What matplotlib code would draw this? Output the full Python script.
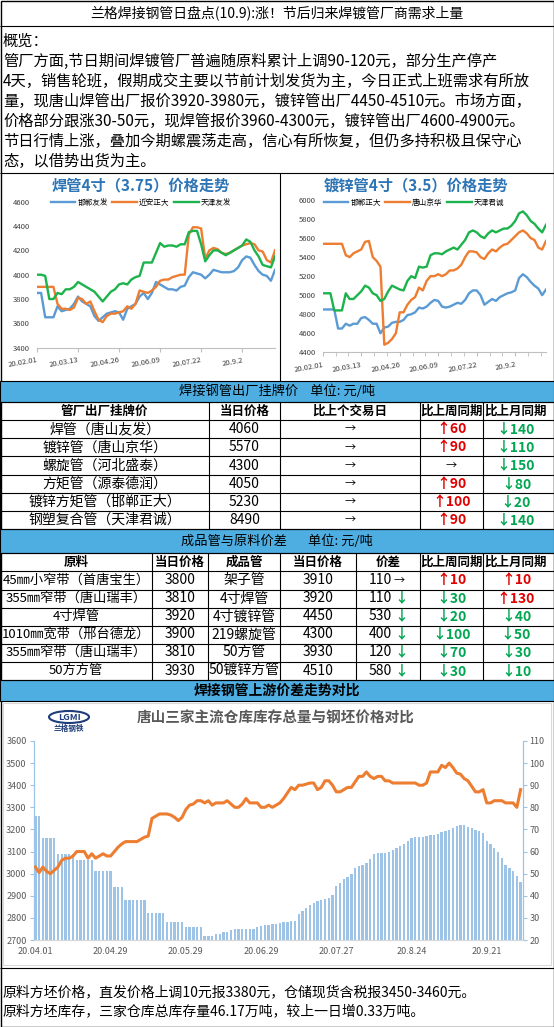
import numpy as np
import matplotlib
matplotlib.use('Agg')
import matplotlib.pyplot as plt
from matplotlib.patches import Rectangle, Ellipse
from matplotlib.ticker import MultipleLocator

plt.rcParams['font.family'] = ['Noto Sans CJK SC', 'DejaVu Sans']

# ---------------- data ----------------
title = '兰格焊接钢管日盘点(10.9):涨！节后归来焊镀管厂商需求上量'
overview = [
    '概览：',
    '管厂方面,节日期间焊镀管厂普遍随原料累计上调90-120元，部分生产停产',
    '4天，销售轮班，假期成交主要以节前计划发货为主，今日正式上班需求有所放',
    '量，现唐山焊管出厂报价3920-3980元，镀锌管出厂4450-4510元。市场方面，',
    '价格部分跟涨30-50元，现焊管报价3960-4300元，镀锌管出厂4600-4900元。',
    '节日行情上涨，叠加今期螺震荡走高，信心有所恢复，但仍多持积极且保守心',
    '态，以借势出货为主。',
]

trend_ticks = ['20.02.01', '20.03.13', '20.04.26', '20.06.09', '20.07.22', '20.9.2']

weld_names = ['邯郸友发', '近安正大', '天津友发']
weld_handan = [3850, 3850, 3650, 3650, 3650, 3740, 3700, 3710, 3720, 3760,
               3820, 3780, 3760, 3740, 3660, 3620, 3650, 3680, 3690, 3700,
               3690, 3630, 3720, 3740, 3760, 3820, 3850, 3800, 3850, 3940,
               3920, 3900, 3880, 3880, 3870, 3900, 3910, 3980, 4020, 4010,
               4000, 3970, 4000, 4040, 4030, 4020, 4020, 4020, 4030, 4060,
               4120, 4150, 4140, 4080, 4030, 4000, 3990, 3950, 4040]
weld_qianan = [3900, 3900, 3900, 3900, 3900, 3760, 3720, 3720, 3710, 3730,
               3810, 3800, 3760, 3780, 3700, 3630, 3610, 3660, 3680, 3680,
               3690, 3700, 3740, 3720, 3760, 3870, 3860, 3850, 3870, 3900,
               3950, 3960, 3960, 3980, 3990, 4000, 4000, 4330, 4390, 4390,
               4380, 4130, 4200, 4220, 4210, 4180, 4170, 4180, 4200, 4220,
               4240, 4250, 4260, 4250, 4200, 4190, 4120, 4100, 4200]
weld_tianjin = [4000, 4000, 3990, 3800, 3800, 3850, 3840, 3880, 3880, 3900,
                3940, 3920, 3900, 3880, 3860, 3820, 3780, 3820, 3860, 3880,
                3920, 3930, 3920, 3960, 3980, 3990, 4100, 4100, 4100, 4180,
                4260, 4230, 4240, 4240, 4230, 4250, 4250, 4350, 4360, 4360,
                4250, 4110, 4160, 4200, 4200, 4180, 4160, 4180, 4200, 4220,
                4240, 4290, 4270, 4200, 4150, 4080, 4070, 4060, 4150]

galv_names = ['邯郸正大', '唐山京华', '天津君诚']
galv_handan = [4850, 4850, 4850, 4850, 4650, 4650, 4700, 4680, 4700, 4700,
               4760, 4770, 4740, 4700, 4700, 4600, 4660, 4670, 4710, 4720,
               4720, 4740, 4790, 4800, 4820, 4870, 4860, 4880, 4920, 4950,
               4940, 4880, 4870, 4880, 4900, 4920, 4910, 4950, 5020, 5050,
               5050, 5000, 4900, 4930, 4960, 4940, 4980, 5000, 5020, 5030,
               5050, 5180, 5220, 5190, 5140, 5100, 5070, 5000, 5060]
galv_jinghua = [5540, 5540, 5540, 5540, 5540, 5540, 5420, 5400, 5440, 5460,
                5480, 5560, 5570, 5400, 5360, 5300, 4480, 4500, 4540, 4600,
                4820, 4820, 4900, 4950, 4980, 5080, 5050, 5150, 5200, 5200,
                5220, 5200, 5220, 5260, 5260, 5280, 5320, 5400, 5460, 5460,
                5450, 5400, 5380, 5440, 5480, 5460, 5500, 5530, 5540, 5580,
                5620, 5660, 5680, 5650, 5600, 5580, 5500, 5480, 5570]
galv_juncheng = [5020, 5020, 5020, 4840, 4840, 4840, 5020, 4960, 4960, 5000,
                 5040, 5100, 5080, 5020, 5000, 4940, 4960, 5040, 5100, 5080,
                 5060, 5050, 5150, 5200, 5180, 5300, 5290, 5300, 5420, 5440,
                 5440, 5430, 5460, 5480, 5500, 5480, 5530, 5580, 5660, 5680,
                 5660, 5620, 5600, 5650, 5680, 5660, 5680, 5700, 5700, 5730,
                 5780, 5860, 5880, 5840, 5780, 5750, 5700, 5660, 5740]

# table 1: list prices
t1_header = ['管厂出厂挂牌价', '当日价格', '比上个交易日', '比上周同期', '比上月同期']
mills = ['焊管（唐山友发）', '镀锌管（唐山京华）', '螺旋管（河北盛泰）',
         '方矩管（源泰德润）', '镀锌方矩管（邯郸正大）', '钢塑复合管（天津君诚）']
list_price = [4060, 5570, 4300, 4050, 5230, 8490]
chg_day = [0, 0, 0, 0, 0, 0]
chg_week = [60, 90, 0, 90, 100, 90]
chg_month = [-140, -110, -150, -80, -20, -140]

# table 2: spread finished pipe vs raw material
t2_header = ['原料', '当日价格', '成品管', '当日价格', '价差', '比上周同期', '比上月同期']
raw_names = ['45㎜小窄带（首唐宝生）', '355㎜窄带（唐山瑞丰）', '4寸焊管',
             '1010㎜宽带（邢台德龙）', '355㎜窄带（唐山瑞丰）', '50方方管']
raw_price = [3800, 3810, 3920, 3900, 3810, 3930]
pipe_names = ['架子管', '4寸焊管', '4寸镀锌管', '219螺旋管', '50方管', '50镀锌方管']
pipe_price = [3910, 3920, 4450, 4300, 3930, 4510]
spread_dir = [0, -1, -1, -1, -1, -1]
spread_week = [10, -30, -20, -100, -70, -30]
spread_month = [10, 130, -40, -50, -30, -10]

# bottom chart: billet price vs inventory
stock_ticks = ['20.04.01', '20.04.29', '20.05.29', '20.06.29', '20.07.27', '20.8.24', '20.9.21']
billet_price = [3030, 3005, 3030, 3010, 3000, 3015, 3030, 3060, 3070, 3070,
                3080, 3100, 3100, 3100, 3070, 3090, 3070, 3080, 3090, 3080,
                3080, 3100, 3120, 3135, 3145, 3145, 3145, 3145, 3155, 3165,
                3170, 3250, 3260, 3270, 3270, 3270, 3265, 3255, 3240, 3255,
                3290, 3310, 3315, 3330, 3330, 3320, 3330, 3310, 3320, 3320,
                3320, 3330, 3315, 3300, 3300, 3315, 3340, 3320, 3320, 3320,
                3300, 3300, 3310, 3300, 3310, 3320, 3340, 3365, 3390, 3380,
                3400, 3400, 3405, 3410, 3410, 3380, 3390, 3420, 3420, 3400,
                3370, 3370, 3380, 3390, 3390, 3415, 3440, 3440, 3460, 3440,
                3430, 3440, 3440, 3420, 3420, 3410, 3410, 3410, 3410, 3410,
                3410, 3410, 3400, 3400, 3410, 3460, 3460, 3460, 3490, 3480,
                3500, 3480, 3455, 3450, 3430, 3420, 3395, 3370, 3370, 3380,
                3320, 3320, 3330, 3330, 3330, 3320, 3320, 3320, 3300, 3380]
inventory = [76, 76, 66, 66, 66, 66, 59, 59, 59, 59,
             59, 56, 56, 56, 56, 56, 51, 51, 51, 51,
             51, 44, 44, 44, 38, 38, 38, 38, 38, 38,
             32, 32, 32, 32, 32, 28, 28, 28, 28, 28,
             26, 26, 26, 26, 26, 22, 22, 22, 22.6, 22.6,
             23.5, 23.8, 24.5, 24.8, 25, 25.2, 25.2, 25, 25, 26,
             26.3, 26.6, 26.8, 27.2, 27.4, 27.5, 28, 28.2, 28.4, 28.7,
             31.6, 33.3, 34.6, 35.8, 36.6, 37.6, 38, 38.5, 39, 40.4,
             44.6, 46, 47.5, 48.7, 50, 52.4, 53.5, 54, 55, 56.6,
             59, 59.2, 59.3, 59.5, 59.7, 60.7, 61.5, 62.5, 63.4, 65,
             66.3, 66.4, 66.5, 66.6, 67.2, 67.3, 67.4, 67.8, 68.7, 69.3,
             69.8, 70.8, 71.6, 72, 72, 71.3, 70.8, 69.8, 69.3, 68.6,
             65, 63.4, 61.5, 60, 57, 54, 52.4, 51, 49, 46.17]

notes = ['原料方坯价格，直发价格上调10元报3380元，仓储现货含税报3450-3460元。',
         '原料方坯库存，三家仓库总库存量46.17万吨，较上一日增0.33万吨。']

# ---------------- styles ----------------
BAND = '#4eaee2'
RED = '#e00000'
GREEN = '#00a651'
C_BLUE, C_ORANGE, C_GREEN = '#5b9bd5', '#ed7d31', '#1db34c'
TITLE_BLUE = '#2e75b6'

W, H = 554, 1027
fig = plt.figure(figsize=(W / 100, H / 100), dpi=100)
base = fig.add_axes([0, 0, 1, 1])
base.set_xlim(0, W)
base.set_ylim(H, 0)
base.axis('off')


def px_axes(x0, y0, x1, y1):
    return fig.add_axes([x0 / W, 1 - y1 / H, (x1 - x0) / W, (y1 - y0) / H])


def hline(y, x0=0, x1=W, color='k', lw=0.8):
    base.plot([x0, x1], [y, y], color=color, lw=lw, solid_capstyle='butt')


def vline(x, y0, y1, color='k', lw=0.8):
    base.plot([x, x], [y0, y1], color=color, lw=lw, solid_capstyle='butt')


def txt(x, y, s, size=10, color='k', weight='normal', ha='center', clip=None):
    t = base.text(x, y, s, fontsize=size, color=color, fontweight=weight,
                  ha=ha, va='center')
    if clip is not None:
        r = Rectangle((clip[0], clip[1]), clip[2] - clip[0], clip[3] - clip[1],
                      fill=False, lw=0)
        base.add_patch(r)
        t.set_clip_path(r)
    return t


def change_cell(x, y, v, size=10):
    if v == 0:
        txt(x, y, '→', size=8)
    elif v > 0:
        txt(x, y, '↑' + str(v), size=size, color=RED, weight='bold')
    else:
        txt(x, y, '↓' + str(-v), size=size, color=GREEN, weight='bold')


# ---------------- header + overview ----------------
base.add_patch(Rectangle((0.5, 0.5), W - 1, H - 1, fill=False, ec='k', lw=1))
txt(277, 13, title, size=10)
hline(25.5)
for i, line in enumerate(overview):
    txt(3, 41 + 20 * i, line, size=11, ha='left')
hline(172.5)
vline(280, 172.5, 381)


# ---------------- small trend charts ----------------
def trend_chart(rect, series, names, ylim, title_s, title_x, legend_x, minor=None):
    ax = px_axes(*rect)
    x = np.arange(len(series[0]))
    for s, n, c in zip(series, names, [C_BLUE, C_ORANGE, C_GREEN]):
        ax.plot(x, s, color=c, lw=1.7, label=n)
    ax.set_xlim(0, len(x) - 1)
    ax.set_ylim(*ylim)
    ax.set_yticks(np.arange(ylim[0], ylim[1] + 1, 200))
    ax.set_xticks(np.arange(0, 10 * len(trend_ticks), 10))
    ax.set_xticklabels(trend_ticks, rotation=10, ha='right', rotation_mode='anchor')
    if minor:
        ax.xaxis.set_minor_locator(MultipleLocator(minor))
    ax.tick_params(axis='y', length=0, labelsize=5.5, labelcolor='#404040', pad=5)
    ax.tick_params(axis='x', which='both', length=3, color='#bfbfbf',
                   labelsize=5.5, labelcolor='#404040', pad=3)
    for side in ['top', 'right', 'left']:
        ax.spines[side].set_visible(False)
    ax.spines['bottom'].set_color('#bfbfbf')
    ax.set_facecolor('none')
    ax.legend(loc='center', bbox_to_anchor=(legend_x / W, 1 - 203 / H),
              bbox_transform=fig.transFigure, ncol=3, frameon=False,
              fontsize=5.5, handlelength=3.2, handletextpad=0.3,
              columnspacing=0.6, borderpad=0)
    txt(title_x, 185, title_s, size=11, color=TITLE_BLUE, weight='bold')
    return ax


trend_chart((37, 201.7, 275, 347.7), [weld_handan, weld_qianan, weld_tianjin],
            weld_names, (3400, 4600), '焊管4寸（3.75）价格走势', 141, 141)
trend_chart((322.7, 200, 546, 352.3), [galv_handan, galv_jinghua, galv_juncheng],
            galv_names, (4400, 6000), '镀锌管4寸（3.5）价格走势', 416, 414, minor=10 / 3)

# ---------------- table 1 ----------------
base.add_patch(Rectangle((0, 381), W, 21, fc=BAND, ec='k', lw=0.8))
txt(277, 391.5, '焊接钢管出厂挂牌价    单位: 元/吨', size=9.5)
cols1 = [0, 209, 280, 420, 483, W]
rows1 = [402, 420, 438.2, 456.4, 474.6, 492.8, 511, 528.5]
for y in rows1:
    hline(y)
for x in cols1:
    vline(x, rows1[0], rows1[-1])
cx1 = [(cols1[i] + cols1[i + 1]) / 2 for i in range(len(cols1) - 1)]
cx1[-1] = 516
for j, h in enumerate(t1_header):
    txt(cx1[j], (rows1[0] + rows1[1]) / 2, h, size=9, weight='bold')
for i in range(len(mills)):
    yc = (rows1[i + 1] + rows1[i + 2]) / 2
    txt(cx1[0], yc, mills[i], size=10)
    txt(cx1[1], yc, str(list_price[i]), size=10)
    change_cell(cx1[2], yc, chg_day[i])
    change_cell(cx1[3], yc, chg_week[i])
    change_cell(cx1[4], yc, chg_month[i])

# ---------------- table 2 ----------------
base.add_patch(Rectangle((0, 528.5), W, 24.5, fc=BAND, ec='k', lw=0.8))
txt(277, 541, '成品管与原料价差       单位: 元/吨', size=9.5)
cols2 = [0, 152, 208, 280, 356, 420, 483, W]
rows2 = [553, 571.3, 589.5, 607.5, 625.5, 643.5, 661.5, 680]
for y in rows2:
    hline(y)
for x in cols2:
    vline(x, rows2[0], rows2[-1])
cx2 = [(cols2[i] + cols2[i + 1]) / 2 for i in range(len(cols2) - 1)]
cx2[-1] = 516
for j, h in enumerate(t2_header):
    txt(cx2[j], (rows2[0] + rows2[1]) / 2, h, size=9, weight='bold')
for i in range(len(raw_names)):
    yc = (rows2[i + 1] + rows2[i + 2]) / 2
    txt(cx2[0], yc, raw_names[i], size=9.5,
        clip=(cols2[0], rows2[i + 1], cols2[1], rows2[i + 2]))
    txt(cx2[1], yc, str(raw_price[i]), size=10)
    txt(cx2[2], yc, pipe_names[i], size=10,
        clip=(cols2[2], rows2[i + 1], cols2[3], rows2[i + 2]))
    txt(cx2[3], yc, str(pipe_price[i]), size=10)
    txt(392, yc, str(pipe_price[i] - raw_price[i]), size=10, ha='right')
    if spread_dir[i] == 0:
        txt(394, yc, '→', size=8, ha='left')
    else:
        txt(394, yc, '↓', size=10, color=GREEN, weight='bold', ha='left')
    change_cell(cx2[5], yc, spread_week[i])
    change_cell(cx2[6], yc, spread_month[i])

base.add_patch(Rectangle((0, 680), W, 21, fc=BAND, ec='k', lw=0.8))
txt(277, 690.5, '焊接钢管上游价差走势对比', size=10, weight='bold')

# ---------------- bottom chart ----------------
base.add_patch(Rectangle((3, 703), 548, 262, fc='white', ec='#d9d9d9', lw=0.8))
base.add_patch(Ellipse((69, 717), 40, 12, fc='white', ec='#1f3d7a', lw=1.5))
txt(69, 717, 'LGMI', size=6.5, color='#1f3d7a', weight='bold')
txt(69, 728, '兰格钢铁', size=5.5, color='#1f3d7a', weight='bold')
txt(276, 718, '唐山三家主流仓库库存总量与钢坯价格对比', size=10.5,
    color='#595959', weight='bold')

axb = px_axes(33.5, 741, 522.5, 940)
axl = axb.twinx()
n = len(inventory)
xi = np.arange(n)
axb.bar(xi, inventory, width=0.62, color='#9dc3e6', zorder=2)
axb.set_xlim(-0.5, n - 0.5)
axb.set_ylim(20, 110)
axb.set_yticks(np.arange(20, 111, 10))
axb.set_xticks(np.arange(0, 20 * len(stock_ticks), 20))
axb.set_xticklabels(stock_ticks)
axb.tick_params(axis='x', length=0, labelsize=6.5, labelcolor='#595959', pad=5)

axl.plot(xi, billet_price, color=C_ORANGE, lw=2.2, zorder=3)
axl.set_ylim(2700, 3600)
axl.set_yticks(np.arange(2700, 3601, 100))

# bars read on the right scale, price on the left
axb.yaxis.set_ticks_position('right')
axb.yaxis.set_label_position('right')
axl.yaxis.set_ticks_position('left')
axl.yaxis.set_label_position('left')
for a in (axb, axl):
    a.tick_params(axis='y', length=3, color='#9dc3e6', labelsize=6.5,
                  labelcolor='#595959', pad=2)
    a.spines['top'].set_visible(False)
    a.spines['left'].set_color('#9dc3e6')
    a.spines['right'].set_color('#9dc3e6')
    a.spines['bottom'].set_color('#d9d9d9')
    a.set_facecolor('none')

# ---------------- notes ----------------
hline(968)
for i, line in enumerate(notes):
    txt(3, 992 + 19 * i, line, size=10, ha='left')

fig.savefig('out.png', dpi=100)
